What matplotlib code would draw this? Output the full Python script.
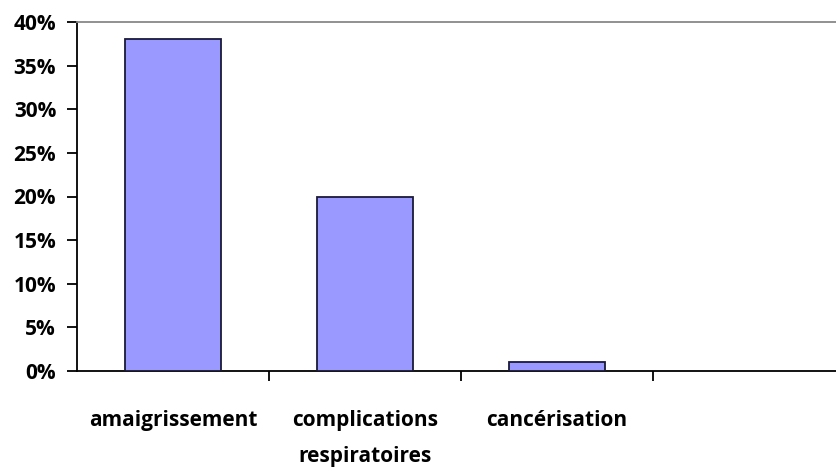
import matplotlib
matplotlib.use("Agg")
import matplotlib.pyplot as plt
from matplotlib.ticker import PercentFormatter

categories = ["amaigrissement", "complications\nrespiratoires", "cancérisation"]
values = [38, 20, 1]
n_slots = 4  # the chart keeps an empty fourth slot on the right

plt.rcParams['font.family'] = ['Open Sans', 'DejaVu Sans']

fig = plt.figure(figsize=(8.37, 4.72), dpi=100)
ax = fig.add_axes([77/837, 1 - 371/472, 768/837, 349/472])

x = list(range(len(categories)))
ax.bar(x, values, width=0.5, color="#9999ff", edgecolor="#1a1a3a", linewidth=1.3, zorder=3)

ax.set_xlim(-0.5, n_slots - 0.5)
ax.set_ylim(0, 40)
ax.set_yticks(range(0, 41, 5))
ax.yaxis.set_major_formatter(PercentFormatter(decimals=0))

ax.set_xticks([i + 0.5 for i in range(n_slots - 1)])
ax.set_xticklabels([])
ax.set_xticks(x, minor=True)
ax.set_xticklabels(categories, minor=True, linespacing=1.95)
ax.tick_params(axis="x", which="minor", length=0, pad=28, labelsize=15)
ax.tick_params(axis="x", which="major", length=7, width=1.3, direction="out")
ax.tick_params(axis="y", length=7, width=1.3, labelsize=15, pad=8)
for lab in ax.get_xticklabels(minor=True) + ax.get_yticklabels():
    lab.set_fontweight("bold")

ax.spines["right"].set_visible(False)
ax.spines["top"].set_color("#888888")
ax.spines["top"].set_linewidth(1.3)
ax.spines["left"].set_linewidth(1.3)
ax.spines["bottom"].set_linewidth(1.3)

fig.savefig("out.png", dpi=100)
